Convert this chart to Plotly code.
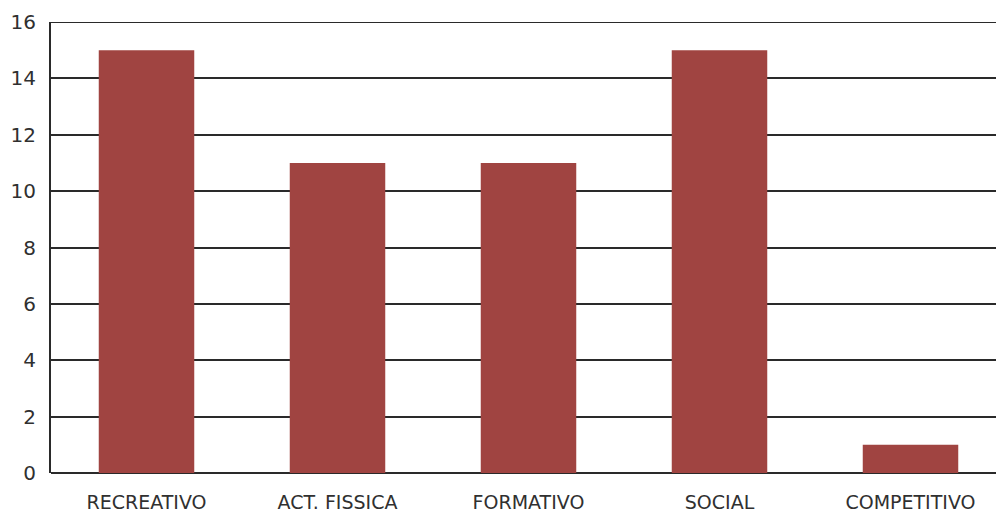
import plotly.graph_objects as go

categories = ["RECREATIVO", "ACT. FISSICA", "FORMATIVO", "SOCIAL", "COMPETITIVO"]
values = [15, 11, 11, 15, 1]
y_ticks = [0, 2, 4, 6, 8, 10, 12, 14, 16]

fig = go.Figure(go.Bar(
    x=list(range(len(categories))), y=values,
    marker=dict(color="#A04441", line=dict(width=0)),
    width=0.5,
))

fig.update_layout(
    width=996, height=515,
    margin=dict(l=51, r=0, t=22, b=42, autoexpand=False),
    paper_bgcolor="white", plot_bgcolor="white",
    showlegend=False,
    font=dict(family="DejaVu Sans, sans-serif", color="#303030"),
    bargap=0.5,
    shapes=[dict(type="line", xref="paper", yref="y", x0=0, x1=1,
                 y0=y_ticks[-1], y1=y_ticks[-1],
                 line=dict(color="#2a2a2a", width=2), layer="below")],
)
fig.update_xaxes(
    range=[-0.5, 4.5 - 10 / 191], automargin=False,
    tickmode="array", tickvals=list(range(len(categories))), ticktext=categories,
    tickfont=dict(size=19), showgrid=False, zeroline=False, showline=False,
    ticks="", ticklabelstandoff=16,
)
fig.update_yaxes(
    range=[0, 16], automargin=False, tickmode="array", tickvals=y_ticks,
    tickfont=dict(size=20), showgrid=True, gridcolor="#2a2a2a", gridwidth=2,
    zeroline=True, zerolinecolor="#2a2a2a", zerolinewidth=2,
    showline=True, linecolor="#2a2a2a", linewidth=2,
    ticks="", ticklabelstandoff=9,
)

fig.write_html("out.html", config={"displayModeBar": False},
               post_script="document.body.style.margin='0px';")
